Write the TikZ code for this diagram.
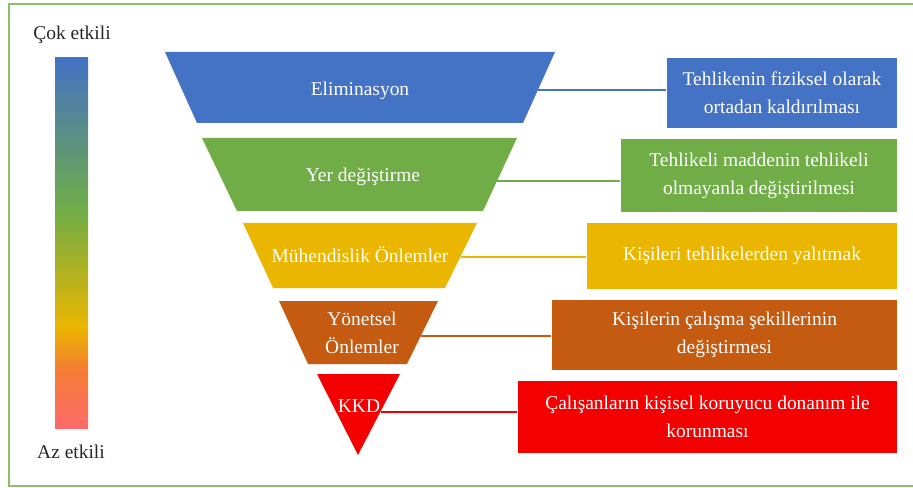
\documentclass[tikz,border=0pt]{standalone}
\usepackage{fontspec}
\setmainfont{Liberation Serif}
\usetikzlibrary{positioning,calc}

\definecolor{elimblue}{RGB}{68,114,196}
\definecolor{yergreen}{RGB}{112,173,71}
\definecolor{muhgold}{RGB}{234,182,0}
\definecolor{yonbrown}{RGB}{197,90,17}
\definecolor{kkdred}{RGB}{245,0,0}
\definecolor{framegreen}{RGB}{140,192,100}
\definecolor{barorange}{RGB}{244,124,52}
\definecolor{barpink}{RGB}{255,106,106}

\begin{document}
\begin{tikzpicture}[x=0.75pt,y=-0.75pt,line width=1.6pt]
\tikzset{txt/.style={text=white,font=\fontsize{14.6}{21}\selectfont,align=center,inner sep=0pt},
  box/.style={txt,fill=#1,minimum height=52.5pt},
  link/.style={draw=#1,line width=2.1pt}}
\useasboundingbox (0,0) rectangle (913,488);

% frame
\draw[framegreen,line width=1.5pt] (913,4) -- (9,4) -- (9,486) -- (913,486);

% effectiveness bar
\shade[top color=elimblue,bottom color=yergreen] (55,58) rectangle (88,210.3);
\shade[top color=yergreen,bottom color=muhgold] (55,210) rectangle (88,327.3);
\shade[top color=muhgold,bottom color=barorange] (55,327) rectangle (88,370.3);
\shade[top color=barorange,bottom color=barpink] (55,370) rectangle (88,428);
\node[inner sep=0pt,text=black!85,font=\fontsize{14.6}{18}\selectfont] (cok) at (72,35) {Çok etkili};
\node[inner sep=0pt,text=black!85,font=\fontsize{14.6}{18}\selectfont] (az) at (71,452) {Az etkili};

% pyramid
\fill[elimblue] (165,52) -- (555,52) -- (523,123) -- (197,123) -- cycle;
\fill[yergreen] (202,138) -- (517,138) -- (483,211) -- (237,211) -- cycle;
\fill[muhgold] (243,223) -- (477,223) -- (445,288) -- (273,288) -- cycle;
\fill[yonbrown] (279,301) -- (438,301) -- (407,364) -- (308,364) -- cycle;
\fill[kkdred] (317,374) -- (400,374) -- (358,455) -- cycle;

\node[txt] (elim) at (360,91) {Eliminasyon};
\node[txt] (yer) at (363,177) {Yer değiştirme};
\node[txt] (muh) at (360,255) {Mühendislik Önlemler};
\node[txt] (yon) at (362,333) {Yönetsel\\Önlemler};
\node[txt] (kkd) at (359,406) {KKD};

\coordinate (elimR) at (538,90);
\coordinate (yerR) at (496,181);
\coordinate (muhR) at (461,257);
\coordinate (yonR) at (421,336);
\coordinate (kkdR) at (381,412);

% measures
\node[box=elimblue,minimum width=172.5pt] (elimbox) at (782,93) {Tehlikenin fiziksel olarak\\ortadan kaldırılması};
\node[box=yergreen,minimum width=207pt,minimum height=54.75pt] (yerbox) at (759,175.5) {Tehlikeli maddenin tehlikeli\\olmayanla değiştirilmesi};
\node[box=muhgold,minimum width=232.5pt,minimum height=49.5pt] (muhbox) at (742,256) {Kişileri tehlikelerden yalıtmak};
\node[box=yonbrown,minimum width=258.75pt] (yonbox) at (724.5,335) {Kişilerin çalışma şekillerinin\\değiştirmesi};
\node[box=kkdred,minimum width=284.25pt,minimum height=54pt] (kkdbox) at (707.5,417) {Çalışanların kişisel koruyucu donanım ile\\korunması};

\path (elimR) edge[link=elimblue] (elimR -| elimbox.west);
\path (yerR) edge[link=yergreen] (yerR -| yerbox.west);
\path (muhR) edge[link=muhgold] (muhR -| muhbox.west);
\path (yonR) edge[link=yonbrown] (yonR -| yonbox.west);
\path (kkdR) edge[link=kkdred] (kkdR -| kkdbox.west);
\end{tikzpicture}
\end{document}
